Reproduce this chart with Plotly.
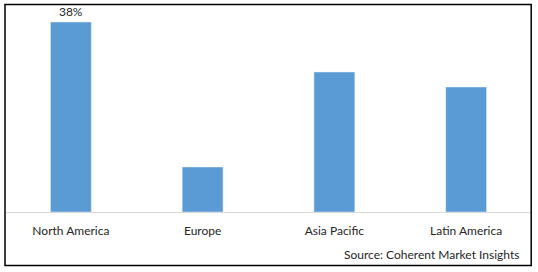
import plotly.graph_objects as go

categories = ["North America", "Europe", "Asia Pacific", "Latin America"]
shares = [38, 9, 28, 25]
bar_labels = ["38%", "", "", ""]
source_text = "Source: Coherent Market Insights"

FONT = "Lato"
fig = go.Figure(
    go.Bar(
        x=categories,
        y=shares,
        marker_color="#5B9BD5",
        width=0.31,
        text=bar_labels,
        textposition="outside",
        cliponaxis=False,
        textfont=dict(family=FONT, size=12, color="#262626"),
        hoverinfo="skip",
    )
)

fig.update_layout(
    width=538,
    height=272,
    margin=dict(l=5, r=6, t=12, b=60),
    paper_bgcolor="white",
    plot_bgcolor="white",
    showlegend=False,
    font=dict(family=FONT, size=12, color="#262626"),
    xaxis=dict(
        showline=True,
        linecolor="#D9D9D9",
        linewidth=1,
        ticks="outside",
        ticklen=8,
        tickcolor="rgba(0,0,0,0)",
        showgrid=False,
        fixedrange=True,
        tickfont=dict(family=FONT, size=12, color="#262626"),
    ),
    yaxis=dict(
        range=[0, 40],
        visible=False,
        showgrid=False,
        fixedrange=True,
    ),
    shapes=[
        dict(
            type="rect",
            xref="paper",
            yref="paper",
            x0=0.0,
            x1=0.9985,
            y0=-0.2675,
            y1=1.0375,
            line=dict(color="black", width=1.5),
            fillcolor="rgba(0,0,0,0)",
            layer="above",
        )
    ],
    annotations=[
        dict(
            text=source_text,
            xref="paper",
            yref="paper",
            x=0.979,
            y=-0.21,
            xanchor="right",
            yanchor="middle",
            showarrow=False,
            font=dict(family=FONT, size=12, color="#262626"),
        )
    ],
)

fig.write_html("out.html")
